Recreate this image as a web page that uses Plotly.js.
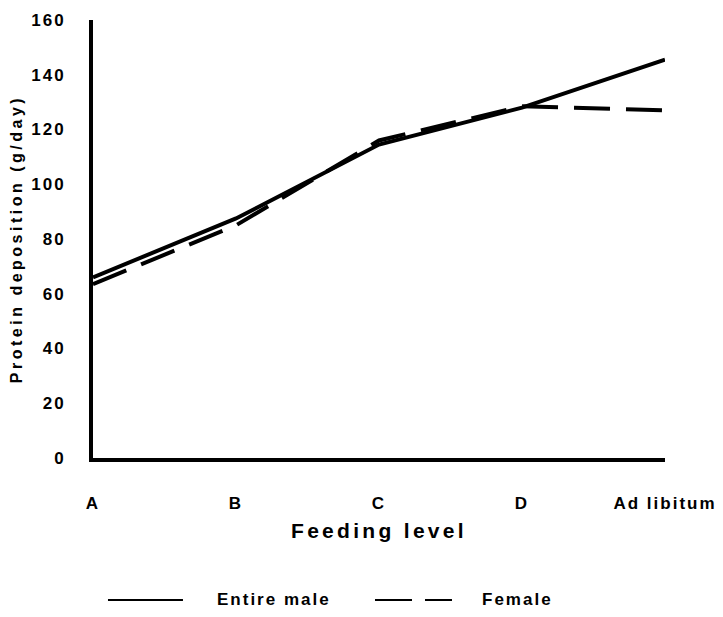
<!DOCTYPE html>
<html>
<head>
<meta charset="utf-8">
<script src="https://cdn.plot.ly/plotly-3.0.1.min.js"></script>
<style>
html, body { margin: 0; padding: 0; background: #fff; }
#chart { width: 723px; height: 617px; }
.ytitle { letter-spacing: 3.5px; }
.xtitle { letter-spacing: 3.3px; }
.ytick text, .xtick text { letter-spacing: 2px; }
.annotation-text { letter-spacing: 2px; }
</style>
</head>
<body>
<div id="chart"></div>
<script>
const categories = ["A", "B", "C", "D", "Ad libitum"];
const entireMale = [66, 87.5, 114.5, 128, 145.5];
const female = [63.5, 85, 116, 128.5, 127];
const seriesNames = ["Entire male", "Female"];

const font = "Liberation Sans, Arial, sans-serif";

const traces = [
  {
    x: categories, y: entireMale, type: "scatter", mode: "lines",
    name: seriesNames[0], showlegend: false,
    line: { color: "#000", width: 4 }
  },
  {
    x: categories, y: female, type: "scatter", mode: "lines",
    name: seriesNames[1], showlegend: false,
    line: { color: "#000", width: 4, dash: "36px,16px" }
  }
];

// legend drawn in paper coordinates (plot area: 93..665 px wide, 20..458 px tall)
const legY = -0.3242;
const shapes = [
  { type: "line", xref: "paper", yref: "paper", x0: 0.0262, x1: 0.1573, y0: legY, y1: legY,
    line: { color: "#000", width: 2 } },
  { type: "line", xref: "paper", yref: "paper", x0: 0.4930, x1: 0.6276, y0: legY, y1: legY,
    line: { color: "#000", width: 2, dash: "37px,13px" } }
];
const annotations = [
  { xref: "paper", yref: "paper", x: 0.2133, y: legY, xanchor: "left", yanchor: "middle",
    text: seriesNames[0], showarrow: false, font: { family: font, size: 17, weight: "bold", color: "#000" } },
  { xref: "paper", yref: "paper", x: 0.6766, y: legY, xanchor: "left", yanchor: "middle",
    text: seriesNames[1], showarrow: false, font: { family: font, size: 17, weight: "bold", color: "#000" } }
];

const layout = {
  width: 723, height: 617,
  margin: { l: 93, r: 58, t: 20, b: 159 },
  paper_bgcolor: "#fff", plot_bgcolor: "#fff",
  font: { family: font, color: "#000", size: 17, weight: "bold" },
  showlegend: false,
  xaxis: {
    type: "category",
    range: [0, 4],
    showgrid: false, zeroline: false,
    showline: true, linewidth: 4, linecolor: "#000",
    ticks: "", ticklabelstandoff: 27,
    tickfont: { family: font, size: 17, weight: "bold" },
    title: { text: "Feeding level", font: { family: font, size: 21, weight: "bold" }, standoff: 12 }
  },
  yaxis: {
    range: [0, 160],
    dtick: 20,
    showgrid: false, zeroline: false,
    showline: true, linewidth: 4, linecolor: "#000",
    ticks: "", ticklabelstandoff: 20,
    tickfont: { family: font, size: 17, weight: "bold" },
    title: { text: "Protein deposition (g/day)", font: { family: font, size: 16, weight: "bold" }, standoff: 6 }
  },
  shapes: shapes,
  annotations: annotations
};

Plotly.newPlot("chart", traces, layout, { displayModeBar: false, staticPlot: true });
</script>
</body>
</html>
